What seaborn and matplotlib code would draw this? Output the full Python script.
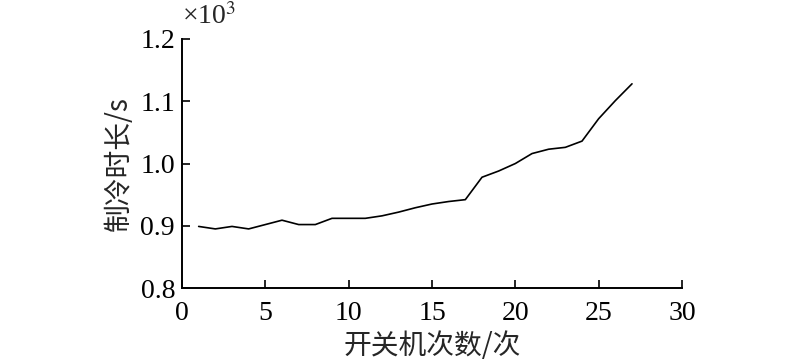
import matplotlib
matplotlib.use('Agg')
import matplotlib.pyplot as plt
from matplotlib.ticker import FuncFormatter
import seaborn as sns
import pandas as pd

# switch-on count vs. cooling time (seconds)
counts = list(range(1, 28))
cool_time = [899, 895, 899, 895, 902, 909, 902, 902, 912, 912,
             912, 916, 922, 929, 935, 939, 942, 978, 988, 1000,
             1016, 1023, 1026, 1036, 1072, 1101, 1128]

df = pd.DataFrame({"count": counts, "time": cool_time})

sns.set_style("ticks")
plt.rcParams['font.family'] = ['Liberation Serif', 'Noto Sans CJK SC']
plt.rcParams['mathtext.fontset'] = 'stix'

fig = plt.figure(figsize=(8, 3.61), dpi=100)
ax = fig.add_axes([0.2275, 0.202, 0.625, 0.69])

sns.lineplot(data=df, x="count", y="time", ax=ax, color="black", linewidth=1.2)

ax.set_xlim(0, 30)
ax.set_ylim(800, 1200)
ax.set_xticks([0, 5, 10, 15, 20, 25, 30])
ax.set_yticks([800, 900, 1000, 1100, 1200])
ax.yaxis.set_major_formatter(FuncFormatter(lambda v, p: f"{v / 1000:.1f}"))
ax.tick_params(direction="in", length=6, width=1.2, labelsize=20, colors="black")
ax.tick_params(axis="x", pad=9)
ax.tick_params(axis="y", pad=5)
for s in ["top", "right"]:
    ax.spines[s].set_visible(False)
for s in ["left", "bottom"]:
    ax.spines[s].set_linewidth(1.4)
    ax.spines[s].set_color("black")

cjk = ['Noto Sans CJK SC', 'Liberation Serif']
ax.set_xlabel("开关机次数/次", fontsize=20, family=cjk, labelpad=4)
ax.set_ylabel("制冷时长/s", fontsize=20, family=cjk, labelpad=5)
ax.text(0.0, 1.035, r"×10$^3$", transform=ax.transAxes, fontsize=20,
        family='Liberation Serif', ha="left", va="bottom")

fig.savefig("out.png", dpi=100)
